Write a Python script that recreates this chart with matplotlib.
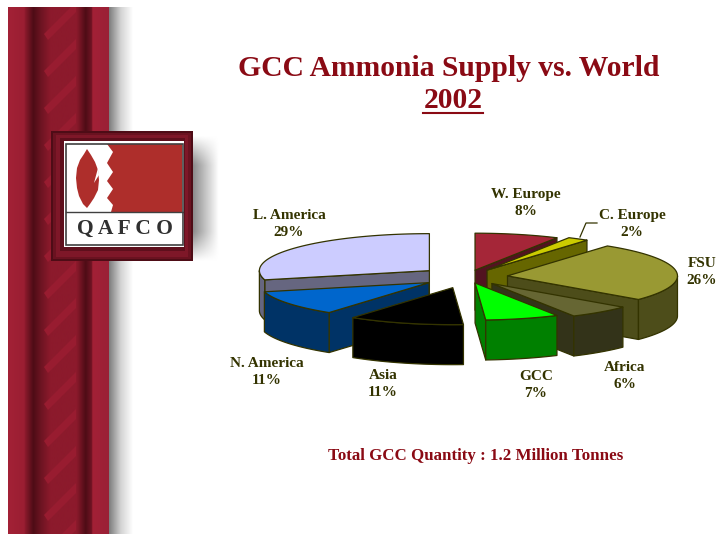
import numpy as np
import matplotlib
matplotlib.use("Agg")
import matplotlib.pyplot as plt
from matplotlib.patches import Polygon, Rectangle
from matplotlib.colors import LinearSegmentedColormap

# data
regions = ["W. Europe", "C. Europe", "FSU", "Africa", "GCC", "Asia", "N. America", "L. America"]
shares = [8, 2, 26, 6, 7, 11, 11, 29]

# styles, same order as regions
explode = [0.19, 0.22, 0.24, 0.23, 0.17, 0.30, 0.27, 0.28]
top_colors = ["#A52638", "#CCCC00", "#999933", "#666633", "#00FF00", "#000000", "#0066CC", "#CCCCFF"]
side_colors = ["#521320", "#666600", "#4D4D1A", "#333319", "#008000", "#000000", "#003366", "#666680"]
draw_order = [7, 0, 1, 2, 3, 4, 6, 5]
label_pos = [(526, 203), (632, 224), (702, 272), (625, 376), (536, 385), (383, 384), (267, 372), (289, 224)]

RED = "#8A0A14"
OLIVE = "#333300"
SERIF = "Liberation Serif"

# pie geometry in pixels
cx, cy = 467, 277
rx, ry = 170, 37
depth = 40

fig = plt.figure(figsize=(7.17, 5.34), dpi=100)
ax = fig.add_axes([0, 0, 1, 1])


def hgrad(x0, x1, y0, y1, stops, z=1):
    cmap = LinearSegmentedColormap.from_list("g", stops)
    im = ax.imshow(np.linspace(0, 1, 256).reshape(1, -1), cmap=cmap, extent=(x0, x1, y1, y0),
                   aspect="auto", zorder=z, interpolation="bilinear")
    return im


# left ribbon
light = "#A32136"
dark = "#4E0C16"
mid = "#8C1A2C"
hgrad(8, 109, 7, 534, [(0, light), (0.16, "#9A1E32"), (0.17, "#8A1A2C"),
                       (0.25, dark), (0.33, "#6E1422"), (0.42, mid), (0.68, mid), (0.77, dark),
                       (0.83, "#701424"), (0.84, "#A32136"), (1, "#9A2036")], z=1)
hgrad(109, 133, 7, 534, [(0, "#7C7C7C"), (0.5, "#D4D4D4"), (1, "#FFFFFF")], z=1)
clip = Rectangle((8, 7), 101, 527, transform=ax.transData)
for y in range(10, 560, 37):
    s = Polygon([(44, y + 24), (76, y - 8), (76, y + 2), (48, y + 30)], fc="#981C30", ec="none", zorder=2)
    ax.add_patch(s)
    s.set_clip_path(clip)

# logo frame and its soft shadow
gx = np.clip(1 - np.linspace(0, 1, 60), 0, 1)
gy = np.clip(1.5 * np.sin(np.linspace(0, np.pi, 60)), 0, 1)
ax.imshow(1 - 0.45 * np.outer(gy, gx), cmap="gray", vmin=0, vmax=1, extent=(193, 219, 262, 135),
          aspect="auto", zorder=1, interpolation="bilinear")
ax.add_patch(Rectangle((51, 131), 142, 130, fc=dark, ec="none", zorder=3))
ax.add_patch(Rectangle((53, 133), 138, 126, fc="#6A1220", ec="none", zorder=3))
ax.add_patch(Rectangle((56, 135), 132, 122, fc="#7E1728", ec="none", zorder=3))
ax.add_patch(Rectangle((60, 138), 125, 113, fc="#5E0F1C", ec="none", zorder=3))
ax.add_patch(Rectangle((64, 141), 120, 106, fc="white", ec="none", zorder=3))
ax.add_patch(Rectangle((66, 144), 117, 101, fc="none", ec="#404040", lw=1.2, zorder=5))
ax.plot([66, 183], [212, 212], color="#404040", lw=1, zorder=5)
logo_red = "#AE2E2B"
ax.add_patch(Polygon([(107, 144), (113, 152), (107, 163), (113, 172), (107, 181), (113, 189),
                      (107, 198), (113, 205), (111, 212), (182, 212), (182, 144)],
                     fc=logo_red, ec="none", zorder=4))
ax.add_patch(Polygon([(87, 149), (91, 155), (95, 162), (98, 170), (99, 180), (98, 190), (94, 198),
                      (90, 204), (87, 208), (83, 204), (79, 196), (77, 188), (76, 178), (77, 168),
                      (80, 160), (84, 154)], fc=logo_red, ec="none", zorder=4))
ax.add_patch(Polygon([(98, 168), (94, 183), (99, 175)], fc="white", ec="none", zorder=4))
ax.text(125, 229, "Q A F C O", family=SERIF, weight="bold", fontsize=15.5, color="#303030",
        ha="center", va="center", zorder=6)


def pt(a, x0, y0):
    r = np.radians(a)
    return x0 + rx * np.sin(r), y0 - ry * np.cos(r)


# pie, angles run clockwise from 12 o'clock
edges = np.concatenate([[0], np.cumsum(shares)]) * 3.6
for i in draw_order:
    a0, a1 = edges[i], edges[i + 1]
    am = np.radians((a0 + a1) / 2)
    x0 = cx + explode[i] * rx * np.sin(am)
    y0 = cy - explode[i] * ry * np.cos(am)
    arc = [pt(a, x0, y0) for a in np.linspace(a0, a1, 60)]
    style = dict(ec=OLIVE, lw=0.9, joinstyle="round", zorder=10)
    # cut faces that look at the viewer
    for a, vis in ((a0, a0 > 180), (a1, a1 < 180)):
        if vis:
            p = pt(a, x0, y0)
            ax.add_patch(Polygon([(x0, y0), p, (p[0], p[1] + depth), (x0, y0 + depth)],
                                 fc=side_colors[i], **style))
    # rim, front half only
    lo, hi = max(a0, 90), min(a1, 270)
    if lo < hi:
        rim = [pt(a, x0, y0) for a in np.linspace(lo, hi, 60)]
        low = [(x, y + depth) for x, y in rim[::-1]]
        ax.add_patch(Polygon(rim + low, fc=side_colors[i], **style))
    ax.add_patch(Polygon([(x0, y0)] + arc, fc=top_colors[i], **style))

# leader line for the small slice
ax.plot([580, 586, 597], [237, 223, 223], color=OLIVE, lw=0.9, zorder=11)

for name, val, (x, y) in zip(regions, shares, label_pos):
    ax.text(x, y, f"{name}\n{val}%", family=SERIF, weight="bold", fontsize=11, color=OLIVE,
            ha="center", va="center", linespacing=1.45, zorder=12)

ax.text(449, 68, "GCC Ammonia Supply vs. World", family=SERIF, weight="bold", fontsize=21.3,
        color=RED, ha="center", va="center")
ax.text(453, 101, "2002", family=SERIF, weight="bold", fontsize=21.3, color=RED, ha="center", va="center")
ax.plot([423, 483], [113, 113], color=RED, lw=1.5)
ax.text(476, 456, "Total GCC Quantity : 1.2 Million Tonnes", family=SERIF, weight="bold", fontsize=12.2,
        color=RED, ha="center", va="center")

ax.set_xlim(0, 717)
ax.set_ylim(534, 0)
ax.axis("off")
fig.savefig("out.png", dpi=100)
